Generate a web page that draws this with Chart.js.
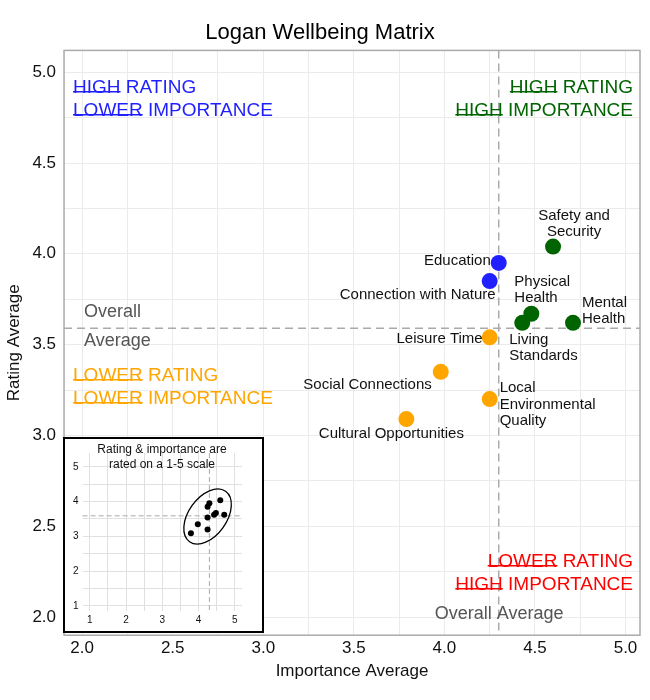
<!DOCTYPE html>
<html>
<head>
<meta charset="utf-8">
<script src="https://cdn.jsdelivr.net/npm/chart.js@4"></script>
<style>
  body { margin: 0; background: #fff; font-family: "Liberation Sans", Arial, sans-serif; }
  #wrap { position: relative; width: 650px; height: 700px; }
  #inset { position: absolute; left: 63px; top: 437px; width: 201px; height: 196px; background: #fff; border: 2px solid #000; box-sizing: border-box; }
</style>
</head>
<body>
<div id="wrap">
  <canvas id="main" width="650" height="700"></canvas>
  <div id="inset"><canvas id="mini" width="197" height="192"></canvas></div>
</div>
<script>
const names = ['Education', 'Connection with Nature', 'Safety and Security', 'Physical Health', 'Living Standards',
  'Mental Health', 'Leisure Time', 'Social Connections', 'Local Environmental Quality', 'Cultural Opportunities'];
const importance = [4.30, 4.25, 4.60, 4.48, 4.43, 4.71, 4.25, 3.98, 4.25, 3.79];
const rating = [3.95, 3.85, 4.04, 3.67, 3.62, 3.62, 3.54, 3.35, 3.20, 3.09];
const colours = ['#1f1fff', '#1f1fff', '#006400', '#006400', '#006400', '#006400', '#ffa500', '#ffa500', '#ffa500', '#ffa500'];
const avgImportance = 4.30;
const avgRating = 3.59;

// label lines, alignment and pixel offsets from each point
const labelLines = [['Education'], ['Connection with Nature'], ['Safety and', 'Security'], ['Physical', 'Health'],
  ['Living', 'Standards'], ['Mental', 'Health'], ['Leisure Time'], ['Social Connections'],
  ['Local', 'Environmental', 'Quality'], ['Cultural Opportunities']];
const labelPos = [['right', -8, -2], ['right', 6, 14], ['center', 21, -31], ['left', -17, -32], ['left', -13, 17],
  ['left', 9, -20], ['right', -7, 2], ['right', -9, 13], ['left', 10, -11], ['center', -15, 15]];

const pts = importance.map((v, i) => ({x: v, y: rating[i]}));

function quarterTicks(lo, hi) {
  const t = [];
  for (let v = lo; v <= hi + 1e-9; v += 0.25) t.push({value: +v.toFixed(2)});
  return t;
}

function ulText(ctx, parts, x, y, align) {
  const full = parts.map(p => p[0]).join('');
  let sx = align === 'right' ? x - ctx.measureText(full).width : x;
  ctx.textAlign = 'left';
  parts.forEach(p => {
    const w = ctx.measureText(p[0]).width;
    ctx.fillText(p[0], sx, y);
    if (p[1]) ctx.fillRect(sx, y + 3, w, 1.5);
    sx += w;
  });
}

const annot = {
  id: 'annot',
  beforeDatasetsDraw(chart) {
    const {ctx, scales: {x, y}, chartArea: a} = chart;
    ctx.save();
    ctx.strokeStyle = '#aaaaaa';
    ctx.lineWidth = 1.5;
    ctx.setLineDash([8, 5]);
    ctx.beginPath();
    ctx.moveTo(x.getPixelForValue(avgImportance), a.top);
    ctx.lineTo(x.getPixelForValue(avgImportance), a.bottom);
    ctx.moveTo(a.left, y.getPixelForValue(avgRating));
    ctx.lineTo(a.right, y.getPixelForValue(avgRating));
    ctx.stroke();
    ctx.restore();
  },
  afterDatasetsDraw(chart) {
    const {ctx, scales: {x, y}, chartArea: a} = chart;
    ctx.save();
    ctx.font = '15px "Liberation Sans", Arial';
    ctx.fillStyle = '#111';
    ctx.textBaseline = 'middle';
    pts.forEach((p, i) => {
      const px = x.getPixelForValue(p.x), py = y.getPixelForValue(p.y);
      const [al, dx, dy] = labelPos[i];
      ctx.textAlign = al;
      labelLines[i].forEach((l, j) => ctx.fillText(l, px + dx, py + dy + j * 16.5));
    });
    ctx.font = '19px "Liberation Sans", Arial';
    ctx.fillStyle = '#1f1fff';
    ulText(ctx, [['HIGH', true], [' RATING', false]], a.left + 9, 88);
    ulText(ctx, [['LOWER', true], [' IMPORTANCE', false]], a.left + 9, 111);
    ctx.fillStyle = '#006400';
    ulText(ctx, [['HIGH', true], [' RATING', false]], a.right - 7, 88, 'right');
    ulText(ctx, [['HIGH', true], [' IMPORTANCE', false]], a.right - 7, 111, 'right');
    ctx.fillStyle = '#ffa500';
    ulText(ctx, [['LOWER', true], [' RATING', false]], a.left + 9, 376);
    ulText(ctx, [['LOWER', true], [' IMPORTANCE', false]], a.left + 9, 399);
    ctx.fillStyle = '#ff0000';
    ulText(ctx, [['LOWER', true], [' RATING', false]], a.right - 7, 562, 'right');
    ulText(ctx, [['HIGH', true], [' IMPORTANCE', false]], a.right - 7, 585, 'right');
    ctx.font = '18px "Liberation Sans", Arial';
    ctx.fillStyle = '#555';
    ctx.textAlign = 'left';
    ctx.fillText('Overall', a.left + 20, 312);
    ctx.fillText('Average', a.left + 20, 341);
    ctx.fillText('Overall Average', x.getPixelForValue(avgImportance) - 64, 614);
    ctx.strokeStyle = '#aaa';
    ctx.lineWidth = 1.5;
    ctx.strokeRect(a.left, a.top, a.right - a.left, a.bottom - a.top);
    ctx.restore();
  }
};

new Chart(document.getElementById('main'), {
  type: 'scatter',
  data: {datasets: [{data: pts, backgroundColor: colours, pointRadius: 8, pointHoverRadius: 8, borderWidth: 0}]},
  options: {
    responsive: false, animation: false,
    layout: {padding: {left: 0, right: 10, top: 0, bottom: 14}},
    plugins: {
      legend: {display: false}, tooltip: {enabled: false},
      title: {display: true, text: 'Logan Wellbeing Matrix', color: '#000',
        font: {size: 22, family: '"Liberation Sans", Arial', weight: 'normal'}, padding: {top: 20, bottom: 4}}
    },
    scales: {
      x: {min: 1.9, max: 5.08,
        afterBuildTicks: s => { s.ticks = quarterTicks(2, 5); },
        ticks: {autoSkip: false, maxRotation: 0, color: '#111', font: {size: 17},
          callback: v => (Math.round(v * 100) % 50 === 0 ? v.toFixed(1) : '')},
        grid: {color: '#ebebeb', drawTicks: false}, border: {display: false},
        title: {display: true, text: 'Importance Average', color: '#111', font: {size: 17}, padding: {top: 0}}},
      y: {min: 1.9, max: 5.12,
        afterBuildTicks: s => { s.ticks = quarterTicks(2, 5); },
        ticks: {autoSkip: false, color: '#111', font: {size: 17}, padding: 8,
          callback: v => (Math.round(v * 100) % 50 === 0 ? v.toFixed(1) : '')},
        grid: {color: '#ebebeb', drawTicks: false}, border: {display: false},
        title: {display: true, text: 'Rating Average', color: '#111', font: {size: 17}, padding: {bottom: 0}}}
    }
  },
  plugins: [annot]
});

const miniExtra = {
  id: 'miniExtra',
  beforeDatasetsDraw(chart) {
    const {ctx, scales: {x, y}, chartArea: a} = chart;
    ctx.save();
    ctx.strokeStyle = '#aaa';
    ctx.setLineDash([5, 3]);
    ctx.beginPath();
    ctx.moveTo(x.getPixelForValue(avgImportance), a.top);
    ctx.lineTo(x.getPixelForValue(avgImportance), a.bottom);
    ctx.moveTo(a.left, y.getPixelForValue(avgRating));
    ctx.lineTo(a.right, y.getPixelForValue(avgRating));
    ctx.stroke();
    ctx.setLineDash([]);
    ctx.strokeStyle = '#000';
    ctx.lineWidth = 1.3;
    ctx.beginPath();
    ctx.ellipse(x.getPixelForValue(4.25), y.getPixelForValue(3.57), 31, 19, -0.95, 0, Math.PI * 2);
    ctx.stroke();
    ctx.restore();
  },
  afterDraw(chart) {
    const ctx = chart.ctx;
    ctx.save();
    ctx.fillStyle = '#111';
    ctx.font = '12px "Liberation Sans", Arial';
    ctx.textAlign = 'center';
    ctx.fillText('Rating & importance are', 97, 14);
    ctx.fillText('rated on a 1-5 scale', 97, 29);
    ctx.restore();
  }
};

new Chart(document.getElementById('mini'), {
  type: 'scatter',
  data: {datasets: [{data: pts, backgroundColor: '#000', pointRadius: 3, borderWidth: 0}]},
  options: {
    responsive: false, animation: false,
    layout: {padding: {top: 14, right: 20, left: 4, bottom: 2}},
    plugins: {legend: {display: false}, tooltip: {enabled: false}},
    scales: {
      x: {min: 0.8, max: 5.2, afterBuildTicks: s => { s.ticks = [1, 1.5, 2, 2.5, 3, 3.5, 4, 4.5, 5].map(v => ({value: v})); },
        ticks: {autoSkip: false, maxRotation: 0, color: '#111', font: {size: 10}, callback: v => (v % 1 === 0 ? v : '')},
        grid: {color: '#e0e0e0', drawTicks: false}, border: {display: false}},
      y: {min: 0.85, max: 5.4, afterBuildTicks: s => { s.ticks = [1, 1.5, 2, 2.5, 3, 3.5, 4, 4.5, 5].map(v => ({value: v})); },
        ticks: {autoSkip: false, color: '#111', font: {size: 10}, padding: 4, callback: v => (v % 1 === 0 ? v : '')},
        grid: {color: '#e0e0e0', drawTicks: false}, border: {display: false}}
    }
  },
  plugins: [miniExtra]
});
</script>
</body>
</html>
